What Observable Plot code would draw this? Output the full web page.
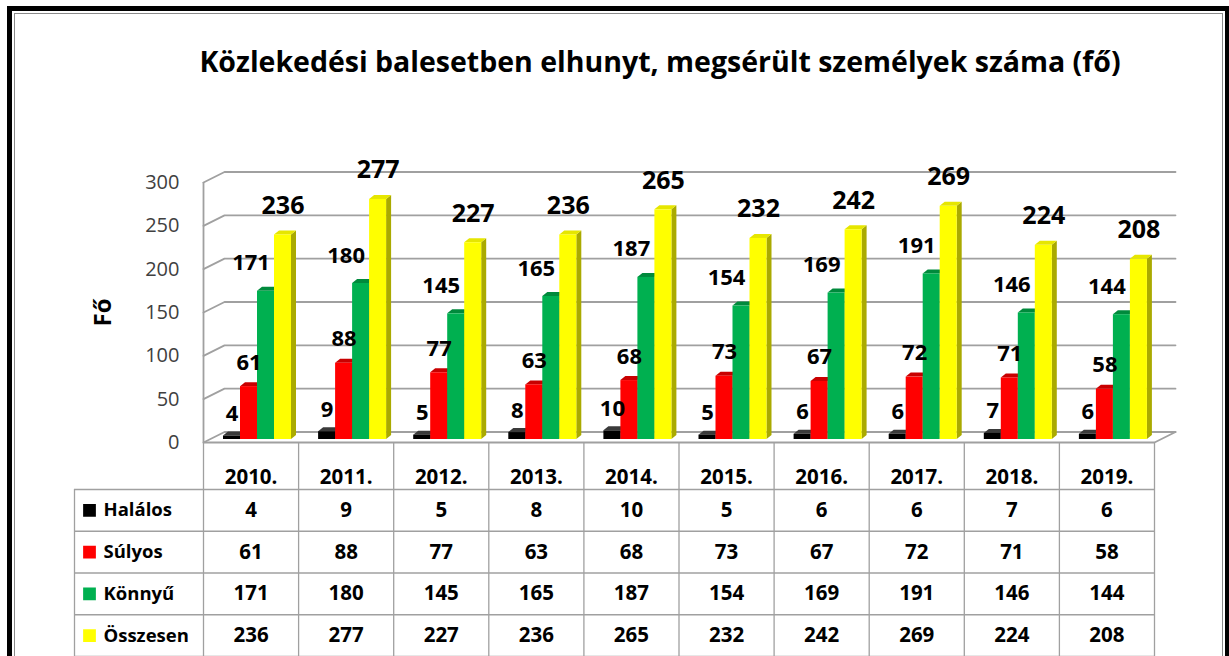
<!DOCTYPE html>
<html>
<head>
<meta charset="utf-8">
<script src="https://cdn.jsdelivr.net/npm/d3@7"></script>
<script src="https://cdn.jsdelivr.net/npm/@observablehq/plot@0.6"></script>
<style>
  html, body { margin: 0; padding: 0; width: 1229px; height: 656px; overflow: hidden; background: #fff; }
  #frame { position: absolute; left: 7px; top: 6px; width: 1213px; height: 700px; border: 5px solid #000; }
  #frame-inner { position: absolute; left: 2px; top: 2px; right: 2px; bottom: 2px; border: 1.5px solid #8a8a8a; }
  #title { position: absolute; left: 0; width: 1320px; top: 43px; text-align: center;
           font-family: "Open Sans", sans-serif; font-weight: 700; font-size: 28.5px; line-height: 36px; color: #000; white-space: nowrap; }
  #chart { position: absolute; left: 0; top: 0; }
  #table { position: absolute; left: 0; top: 443px; }
</style>
</head>
<body>
<div id="frame"><div id="frame-inner"></div></div>
<div id="title">Közlekedési balesetben elhunyt, megsérült személyek száma (fő)</div>
<div id="chart"></div>
<div id="table"></div>
<script>
// ---- data ----
const years = ["2010.", "2011.", "2012.", "2013.", "2014.", "2015.", "2016.", "2017.", "2018.", "2019."];
const seriesNames = ["Halálos", "Súlyos", "Könnyű", "Összesen"];
const halalos = [4, 9, 5, 8, 10, 5, 6, 6, 7, 6];
const sulyos = [61, 88, 77, 63, 68, 73, 67, 72, 71, 58];
const konnyu = [171, 180, 145, 165, 187, 154, 169, 191, 146, 144];
const osszesen = [236, 277, 227, 236, 265, 232, 242, 269, 224, 208];
const yTicks = [0, 50, 100, 150, 200, 250, 300];
const yAxisTitle = "Fő";

// ---- styles ----
const frontColors = ["#000000", "#ff0000", "#00b050", "#ffff00"];
const topColors = ["#3a3a3a", "#c80000", "#008a3c", "#e6e600"];
const sideColors = ["#222222", "#a00000", "#007030", "#aaaa00"];
const FONT = "Open Sans";

// ---- geometry (pixels -> scale units) ----
const X0 = 203, X1 = 1154;           // front plane, category axis
const YB = 442, YT = 182;            // front plane, 0 and 300
const PX = (X1 - X0) / years.length; // px per category
const PY = (YB - YT) / 300;          // px per value unit
const wallDX = 21 / PX, wallDY = 10.5 / PY;   // back-wall depth
const groupPad = 20, barW = 17, sideW = 5, topH = 4, lift = 3;

const allSeries = [halalos, sulyos, konnyu, osszesen];
const bars = [];
allSeries.forEach((vals, j) => vals.forEach((v, i) => {
  const x1 = i + (groupPad + barW * j) / PX;
  bars.push({j, i, v, x1, x2: x1 + barW / PX, key: j + "-" + i});
}));
const d = sideW / PX, e = topH / PY;
const sidePts = [], topPts = [];
for (const b of bars) {
  sidePts.push({j: b.j, key: b.key, x: b.x2, y1: 0, y2: b.v});
  sidePts.push({j: b.j, key: b.key, x: b.x2 + d, y1: e, y2: b.v + e});
  topPts.push({j: b.j, key: b.key, x: b.x1, y1: b.v, y2: b.v});
  topPts.push({j: b.j, key: b.key, x: b.x1 + d, y1: b.v, y2: b.v + e});
  topPts.push({j: b.j, key: b.key, x: b.x2, y1: b.v, y2: b.v + e});
  topPts.push({j: b.j, key: b.key, x: b.x2 + d, y1: b.v + e, y2: b.v + e});
}
const gridPts = yTicks.flatMap(t => [
  {t, x: 0, y: t}, {t, x: wallDX, y: t + wallDY}, {t, x: years.length + wallDX, y: t + wallDY}
]);
const floorPts = [
  {x: 0, y: 0}, {x: years.length, y: 0}, {x: years.length + wallDX, y: wallDY}
];

const marks = [];
marks.push(Plot.line(gridPts, {x: "x", y: "y", z: "t", stroke: "#a0a0a0", strokeWidth: 1.8}));
marks.push(Plot.ruleX([0], {y1: 0, y2: 300, stroke: "#a0a0a0", strokeWidth: 1.8}));
marks.push(Plot.line(floorPts, {x: "x", y: "y", stroke: "#a0a0a0", strokeWidth: 1.8}));
for (let j = 0; j < 4; j++) {
  marks.push(Plot.area(sidePts.filter(p => p.j === j), {x1: "x", y1: "y1", y2: "y2", z: "key", fill: sideColors[j], dy: -lift}));
}
for (let j = 0; j < 4; j++) {
  marks.push(Plot.area(topPts.filter(p => p.j === j), {x1: "x", y1: "y1", y2: "y2", z: "key", fill: topColors[j], dy: -lift}));
}
for (let j = 0; j < 4; j++) {
  marks.push(Plot.rect(bars.filter(b => b.j === j), {x1: "x1", x2: "x2", y1: 0, y2: "v", fill: frontColors[j], dy: -lift}));
}
// data labels
const labelStyle = [
  {dx: 0, dy: -25, size: 22}, {dx: 0, dy: -27, size: 22},
  {dx: -15, dy: -31, size: 22}, {dx: 0, dy: -32, size: 25}
];
for (let j = 0; j < 4; j++) {
  const s = labelStyle[j];
  marks.push(Plot.text(bars.filter(b => b.j === j), {
    x: b => (b.x1 + b.x2) / 2, y: "v", text: b => String(b.v),
    dx: s.dx, dy: s.dy, fontSize: s.size, fontWeight: 700, fill: "#000", lineAnchor: "middle"
  }));
}
// y tick labels
marks.push(Plot.text(yTicks, {x: 0, y: t => t, text: t => String(t), textAnchor: "end", dx: -24, fontSize: 20, fill: "#404040", lineAnchor: "middle"}));
// y axis title
marks.push(Plot.text([yAxisTitle], {x: 0, y: 150, text: t => t, dx: -100, rotate: -90, fontSize: 24, fontWeight: 700, fill: "#000", lineAnchor: "middle"}));

const chart = Plot.plot({
  width: 1229, height: 446,
  margin: 0,
  style: {fontFamily: FONT, background: "transparent", overflow: "visible"},
  x: {type: "linear", domain: [0, years.length], range: [X0, X1], axis: null},
  y: {type: "linear", domain: [0, 300], range: [YB, YT], axis: null},
  marks
});
document.getElementById("chart").append(chart);

// ---- data table ----
const ROWH = 41.75, HEADH = 46;
const legendLeft = -(X0 - 74) / PX;
const cells = [];
allSeries.forEach((vals, r) => vals.forEach((v, i) => cells.push({r, i, v})));
const tMarks = [];
tMarks.push(Plot.ruleX(d3.range(years.length + 1), {y1: -HEADH / ROWH, y2: 4, stroke: "#a0a0a0", strokeWidth: 1.3}));
tMarks.push(Plot.ruleY(d3.range(5), {x1: legendLeft, x2: years.length, stroke: "#a0a0a0", strokeWidth: 1.3}));
tMarks.push(Plot.ruleX([legendLeft], {y1: 0, y2: 4, stroke: "#a0a0a0", strokeWidth: 1.3}));
tMarks.push(Plot.text(years, {x: (d, i) => i + 0.5, y: -0.3, text: d => d, fontSize: 20.5, fontWeight: 700, fill: "#000", lineAnchor: "middle"}));
tMarks.push(Plot.text(cells, {x: c => c.i + 0.5, y: c => c.r + 0.5, text: c => String(c.v), fontSize: 20.5, fontWeight: 700, fill: "#000", lineAnchor: "middle"}));
tMarks.push(Plot.dot(seriesNames, {x: legendLeft, y: (d, r) => r + 0.5, dx: 15, symbol: "square", r: 7.2, fill: (d, r) => frontColors[r], stroke: null}));
tMarks.push(Plot.text(seriesNames, {x: legendLeft, y: (d, r) => r + 0.5, dx: 29, text: d => d, textAnchor: "start", fontSize: 18.5, fontWeight: 700, fill: "#000", lineAnchor: "middle"}));

const table = Plot.plot({
  width: 1229, height: 213,
  margin: 0,
  style: {fontFamily: FONT, background: "transparent", overflow: "visible"},
  x: {type: "linear", domain: [0, years.length], range: [X0, X1], axis: null},
  y: {type: "linear", domain: [-HEADH / ROWH, 4], range: [0, HEADH + 4 * ROWH], axis: null},
  color: {type: "identity"},
  marks: tMarks
});
document.getElementById("table").append(table);
</script>
</body>
</html>
